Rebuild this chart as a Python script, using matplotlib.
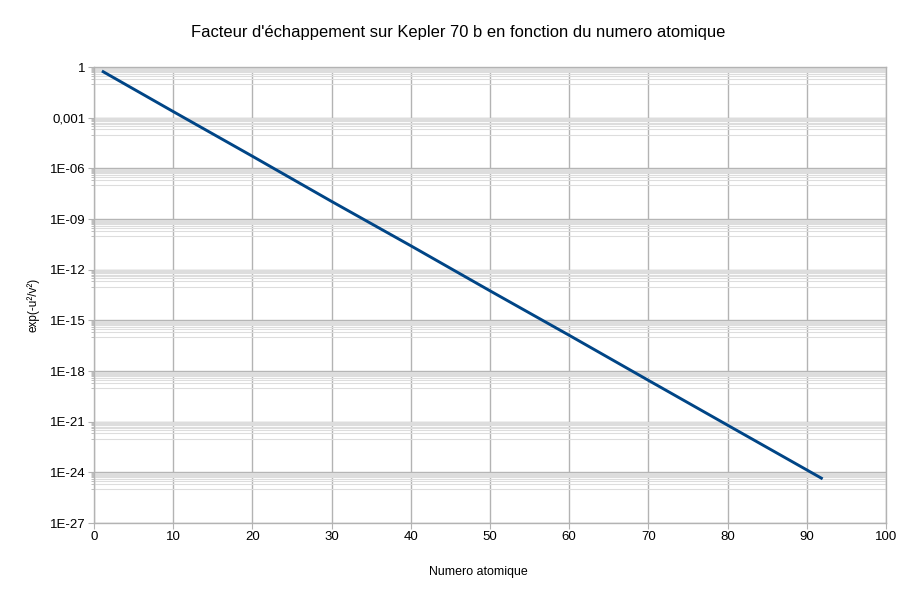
import matplotlib
matplotlib.use("Agg")
import matplotlib.pyplot as plt
from matplotlib.ticker import FixedLocator, FixedFormatter, NullFormatter
import numpy as np

# values (log scale, straight line)
numero_atomique = [1, 10, 20, 30, 40, 50, 60, 70, 80, 92]
facteur = [5.8e-1, 2.3e-3, 5.2e-6, 1.1e-8, 2.6e-11, 5.6e-14, 1.3e-16, 2.8e-19, 6.2e-22, 4.1e-25]

y_ticks = [1, 1e-3, 1e-6, 1e-9, 1e-12, 1e-15, 1e-18, 1e-21, 1e-24, 1e-27]
y_labels = ["1", "0,001", "1E-06", "1E-09", "1E-12", "1E-15", "1E-18", "1E-21", "1E-24", "1E-27"]
x_ticks = [0, 10, 20, 30, 40, 50, 60, 70, 80, 90, 100]

plt.rcParams['font.family'] = ['Liberation Sans', 'DejaVu Sans']

W, H = 917, 598
fig = plt.figure(figsize=(W / 100, H / 100), dpi=100)
ax = fig.add_axes([94 / W, 1 - 523 / H, (886 - 94) / W, (523 - 67) / H])

ax.plot(numero_atomique, facteur, color='#004586', linewidth=2.1, solid_capstyle='butt', zorder=3)

ax.set_yscale('log')
ax.set_xlim(0, 100)
ax.set_ylim(1e-27, 1)

ax.xaxis.set_major_locator(FixedLocator(x_ticks))
ax.yaxis.set_major_locator(FixedLocator(y_ticks))
ax.yaxis.set_major_formatter(FixedFormatter(y_labels))

minor = []
for t in y_ticks[:-1]:
    for m in range(1, 10):
        minor.append(t * m / 10)
ax.yaxis.set_minor_locator(FixedLocator(minor))
ax.yaxis.set_minor_formatter(NullFormatter())

ax.grid(True, which='major', color='#b3b3b3', linewidth=1.0, zorder=1)
ax.grid(True, which='minor', axis='y', color='#dddddd', linewidth=0.8, zorder=0)
ax.set_axisbelow(True)

for s in ax.spines.values():
    s.set_color('#b3b3b3')
    s.set_linewidth(1.0)

ax.tick_params(which='major', length=4, color='#b3b3b3', labelsize=9.5, labelcolor='#000000', pad=2)
ax.tick_params(which='minor', length=2, color='#b3b3b3')

fig.text(0.5, 1 - 32 / H, "Facteur d'échappement sur Kepler 70 b en fonction du numero atomique",
         ha='center', va='center', fontsize=11.9)
fig.text(478 / W, 1 - 572 / H, "Numero atomique", ha='center', va='center', fontsize=8.9)
fig.text(33 / W, 1 - 305 / H, "exp(-u²/v²)", ha='center', va='center', rotation=90, fontsize=8.5)

fig.savefig("out.png", dpi=100)
